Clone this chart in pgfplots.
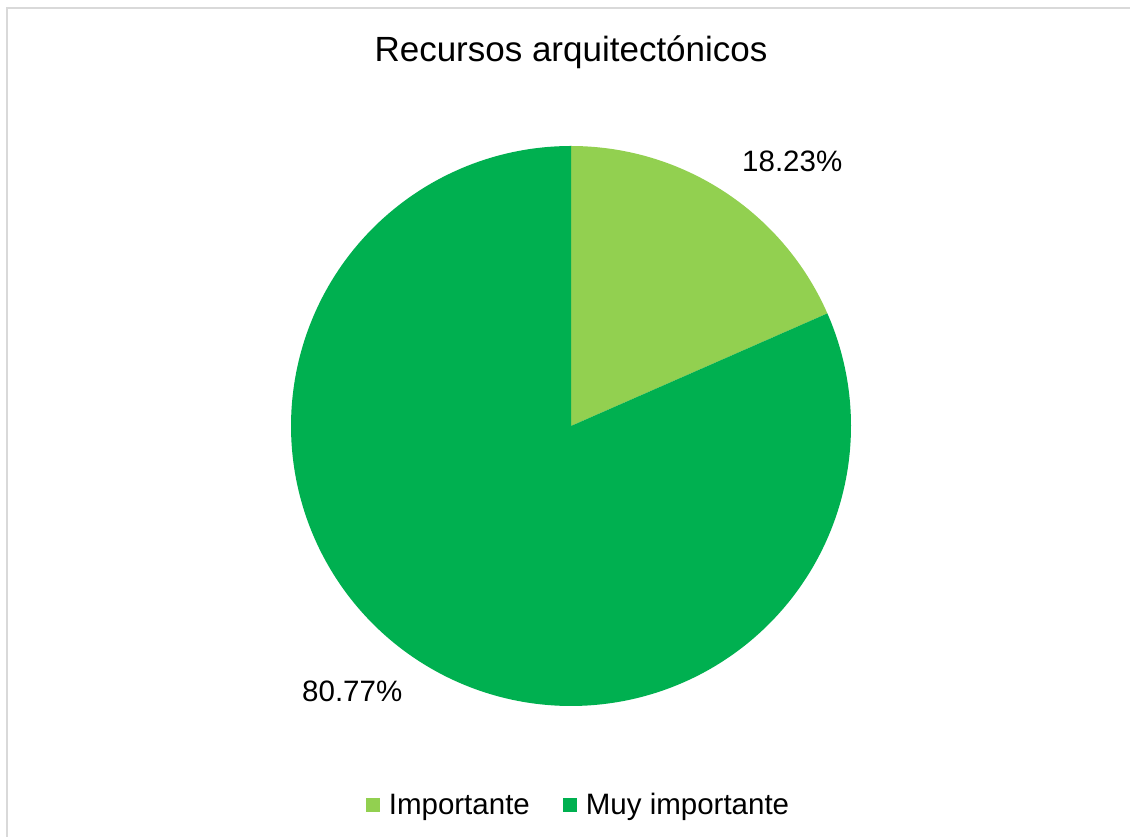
\documentclass[border=0pt]{standalone}
\usepackage{pgfplots}
\pgfplotsset{compat=1.18}
\usepackage{pgfplotstable}
\usepackage{fontspec}
\setmainfont{Liberation Sans}
\definecolor{imp}{HTML}{92D050}
\definecolor{muy}{HTML}{00B050}
\definecolor{bord}{HTML}{D9D9D9}
\pgfplotstableread{
label value
Importante 18.23
Muy 80.77
}\piedata
\begin{document}
\begin{tikzpicture}
\pgfplotstablegetelem{0}{value}\of\piedata \let\va\pgfplotsretval
\pgfplotstablegetelem{1}{value}\of\piedata \let\vb\pgfplotsretval
\pgfmathsetmacro\tot{\va+\vb}
\pgfmathsetmacro\aA{90}
\pgfmathsetmacro\aB{90-360*\va/\tot}
\pgfmathsetmacro\aC{90-360}
\useasboundingbox (0,0) rectangle (1130pt,837pt);
\fill[white] (0,0) rectangle (1130pt,837pt);
\draw[bord, line width=2pt] (7.3pt,0) -- (7.3pt,829.3pt) -- (1131pt,829.3pt);
\begin{axis}[at={(0,0)}, anchor=south west, width=1130pt, height=837pt,
  scale only axis, xmin=0, xmax=1130, ymin=0, ymax=837, hide axis, clip=false,
  legend columns=2,
  legend image code/.code={\fill[#1] (0pt,-7pt) rectangle (14pt,7pt); \path (21pt,0pt);},
  legend style={draw=none, fill=none, at={(axis cs:578.5,32)}, anchor=center,
    font=\fontsize{29.5}{35}\selectfont,
    /tikz/every even column/.append style={column sep=31pt}},
]
\addplot[fill=imp, draw=none, domain=\aB:\aA, samples=120]
  ({571+280*cos(x)},{411+280*sin(x)}) -- (axis cs:571,411) -- cycle;
\addlegendentry{Importante}
\addplot[fill=muy, draw=none, domain=\aC:\aB, samples=300]
  ({571+280*cos(x)},{411+280*sin(x)}) -- (axis cs:571,411) -- cycle;
\addlegendentry{Muy importante}
\node[anchor=base, font=\fontsize{35}{42}\selectfont] at (axis cs:571,775) {Recursos arquitectónicos};
\node[anchor=base west, inner sep=0pt, font=\fontsize{29.5}{35}\selectfont] at (axis cs:742,665) {18.23\%};
\node[anchor=base west, inner sep=0pt, font=\fontsize{29.5}{35}\selectfont] at (axis cs:302,135) {80.77\%};
\end{axis}
\end{tikzpicture}
\end{document}
